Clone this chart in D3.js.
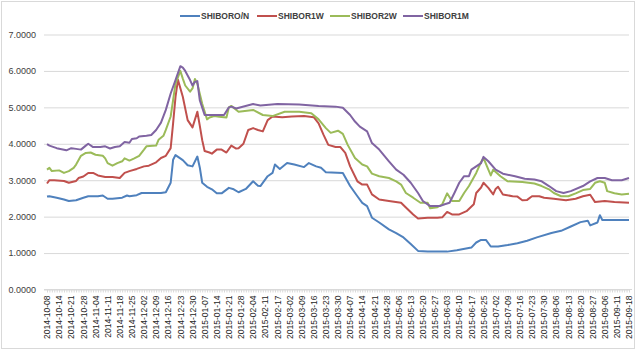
<!DOCTYPE html>
<html lang="zh-CN">

<head>
  <meta charset="UTF-8">
  <title>SHIBOR</title>
  <script src="https://cdn.jsdelivr.net/npm/d3@7/dist/d3.min.js"></script>
  <style>
    body { margin: 0; padding: 0; background: #fff; }
  </style>
</head>

<body>
  <div id="svg-root"></div>
  <script>
    // 每隔 5 个交易日一个刻度标签
    const tickLabels = [
      '2014-10-08', '2014-10-14', '2014-10-21', '2014-10-28', '2014-11-04', '2014-11-11', '2014-11-18',
      '2014-11-25', '2014-12-02', '2014-12-09', '2014-12-16', '2014-12-23', '2014-12-30', '2015-01-07',
      '2015-01-14', '2015-01-21', '2015-01-28', '2015-02-04', '2015-02-11', '2015-02-17', '2015-03-02',
      '2015-03-09', '2015-03-16', '2015-03-23', '2015-03-30', '2015-04-07', '2015-04-14', '2015-04-21',
      '2015-04-28', '2015-05-06', '2015-05-13', '2015-05-20', '2015-05-27', '2015-06-03', '2015-06-10',
      '2015-06-17', '2015-06-25', '2015-07-02', '2015-07-09', '2015-07-16', '2015-07-23', '2015-07-30',
      '2015-08-06', '2015-08-13', '2015-08-20', '2015-08-27', '2015-09-06', '2015-09-11', '2015-09-18'
    ];
    const dayCount = 241; // 交易日个数（0..240）
    const yTicks = [0, 1, 2, 3, 4, 5, 6, 7];
    const seriesNames = ['SHIBORO/N', 'SHIBOR1W', 'SHIBOR2W', 'SHIBOR1M'];
    const colors = ['#4F81BD', '#C0504D', '#9BBB59', '#8064A2'];

    // [交易日序号, 利率]
    const shiborON = [[0, 2.55], [1, 2.56], [4, 2.52], [7, 2.47], [9, 2.43], [12, 2.45], [15, 2.52], [17, 2.56],
      [21, 2.56], [23, 2.58], [25, 2.49], [27, 2.49], [31, 2.52], [33, 2.58], [34, 2.56], [37, 2.59], [39, 2.65],
      [47, 2.65], [49, 2.67], [51, 2.93], [52, 3.56], [53, 3.69], [56, 3.55], [58, 3.41], [60, 3.38], [62, 3.65],
      [63, 3.35], [64, 2.93], [66, 2.82], [68, 2.75], [70, 2.64], [72, 2.64], [75, 2.79], [77, 2.75], [79, 2.67],
      [82, 2.76], [85, 2.97], [87, 2.85], [88, 2.84], [91, 3.11], [93, 3.2], [94, 3.43], [96, 3.31], [99, 3.47],
      [102, 3.43], [106, 3.36], [108, 3.47], [111, 3.38], [113, 3.34], [115, 3.22], [122, 3.2], [125, 2.84],
      [128, 2.56], [130, 2.38], [132, 2.29], [134, 1.97], [137, 1.84], [141, 1.65], [144, 1.55], [147, 1.43],
      [150, 1.25], [153, 1.06], [157, 1.04], [165, 1.04], [169, 1.08], [175, 1.15], [177, 1.29], [179, 1.36],
      [181, 1.36], [183, 1.18], [186, 1.18], [190, 1.22], [194, 1.27], [198, 1.34], [202, 1.43], [208, 1.55],
      [212, 1.61], [216, 1.73], [220, 1.85], [223, 1.89], [224, 1.76], [227, 1.84], [228, 2.04], [229, 1.91],
      [234, 1.91], [240, 1.91]];

    const shibor1W = [[0, 2.91], [1, 3.0], [3, 3.0], [7, 2.98], [9, 2.93], [12, 2.98], [13, 3.06], [15, 3.1],
      [17, 3.2], [19, 3.2], [21, 3.13], [24, 3.09], [27, 3.09], [30, 3.06], [32, 3.2], [34, 3.25], [37, 3.31],
      [40, 3.38], [42, 3.4], [45, 3.49], [47, 3.61], [49, 3.67], [51, 3.88], [52, 4.56], [53, 5.29], [54, 5.76],
      [56, 5.29], [58, 4.65], [60, 4.45], [62, 4.88], [63, 4.5], [64, 4.1], [65, 3.8], [67, 3.76], [68, 3.73],
      [70, 3.84], [72, 3.84], [74, 3.76], [76, 3.95], [78, 3.87], [79, 3.88], [81, 4.0], [83, 4.38], [85, 4.43],
      [87, 4.38], [89, 4.34], [91, 4.65], [93, 4.75], [97, 4.73], [101, 4.75], [106, 4.76], [110, 4.73],
      [112, 4.56], [114, 4.25], [116, 3.97], [119, 3.91], [121, 3.91], [123, 3.75], [125, 3.38], [128, 2.97],
      [130, 2.88], [132, 2.88], [134, 2.61], [137, 2.47], [141, 2.43], [146, 2.38], [148, 2.25], [151, 2.06],
      [153, 1.95], [157, 1.97], [161, 1.97], [163, 1.98], [165, 2.13], [167, 2.06], [170, 2.06], [173, 2.15],
      [176, 2.34], [177, 2.65], [179, 2.8], [180, 2.93], [182, 2.79], [184, 2.61], [185, 2.76], [186, 2.82],
      [188, 2.61], [192, 2.56], [194, 2.55], [196, 2.45], [198, 2.46], [200, 2.56], [203, 2.56], [205, 2.52],
      [209, 2.49], [214, 2.45], [218, 2.49], [221, 2.56], [224, 2.6], [226, 2.4], [230, 2.43], [234, 2.4],
      [240, 2.38]];

    const shibor2W = [[0, 3.29], [1, 3.34], [2, 3.25], [5, 3.27], [7, 3.2], [9, 3.25], [11, 3.34], [12, 3.43],
      [14, 3.67], [16, 3.75], [18, 3.76], [20, 3.7], [23, 3.67], [24, 3.6], [25, 3.47], [27, 3.4], [29, 3.47],
      [31, 3.52], [32, 3.6], [34, 3.54], [36, 3.6], [38, 3.67], [40, 3.84], [41, 3.93], [45, 3.95], [46, 4.11],
      [48, 4.22], [49, 4.38], [51, 4.75], [52, 5.2], [53, 5.65], [55, 6.0], [56, 5.79], [57, 5.6], [59, 5.43],
      [60, 5.52], [61, 5.78], [62, 5.65], [64, 5.1], [66, 4.67], [67, 4.72], [69, 4.76], [71, 4.74], [74, 4.72],
      [75, 5.0], [76, 5.04], [79, 4.88], [85, 4.93], [89, 4.79], [93, 4.76], [98, 4.88], [104, 4.88], [109, 4.84],
      [112, 4.67], [115, 4.43], [117, 4.3], [120, 4.36], [122, 4.27], [124, 3.97], [127, 3.61], [130, 3.43],
      [132, 3.38], [134, 3.18], [137, 3.11], [141, 3.06], [144, 2.97], [146, 2.88], [148, 2.65], [151, 2.52],
      [154, 2.38], [157, 2.38], [158, 2.23], [161, 2.26], [163, 2.34], [165, 2.64], [167, 2.43], [170, 2.43],
      [172, 2.65], [174, 2.84], [177, 3.2], [179, 3.5], [180, 3.61], [182, 3.29], [183, 3.13], [184, 3.29],
      [187, 3.11], [190, 2.97], [196, 2.95], [201, 2.91], [204, 2.84], [207, 2.75], [209, 2.65], [212, 2.56],
      [215, 2.56], [218, 2.64], [221, 2.73], [224, 2.76], [226, 2.93], [228, 2.97], [230, 2.93], [231, 2.7],
      [234, 2.64], [237, 2.61], [240, 2.63]];

    const shibor1M = [[0, 3.99], [1, 3.95], [4, 3.88], [8, 3.82], [10, 3.88], [12, 3.86], [14, 3.84], [16, 3.95],
      [17, 4.0], [19, 3.91], [22, 3.91], [24, 3.93], [26, 3.87], [28, 3.91], [30, 3.93], [32, 4.05], [34, 4.03],
      [35, 4.13], [37, 4.15], [38, 4.2], [41, 4.22], [43, 4.24], [45, 4.38], [47, 4.58], [49, 4.93], [51, 5.38],
      [53, 5.75], [55, 6.13], [56, 6.09], [57, 6.0], [59, 5.75], [60, 5.6], [61, 5.7], [62, 5.72], [63, 5.2],
      [65, 4.79], [73, 4.79], [75, 5.0], [76, 5.02], [78, 4.97], [85, 5.09], [88, 5.05], [95, 5.09], [104, 5.08],
      [112, 5.04], [119, 5.02], [122, 4.99], [125, 4.79], [127, 4.61], [129, 4.47], [132, 4.34], [134, 4.02],
      [137, 3.84], [141, 3.52], [144, 3.29], [147, 3.15], [150, 2.93], [153, 2.65], [155, 2.43], [158, 2.29],
      [162, 2.29], [164, 2.34], [166, 2.38], [168, 2.65], [170, 2.93], [172, 3.11], [174, 3.11], [175, 3.29],
      [177, 3.38], [179, 3.47], [180, 3.64], [182, 3.52], [185, 3.29], [188, 3.18], [193, 3.11], [197, 3.04],
      [201, 3.02], [204, 2.97], [207, 2.84], [210, 2.7], [213, 2.65], [216, 2.7], [221, 2.84], [224, 2.97],
      [227, 3.06], [230, 3.06], [233, 3.0], [237, 3.0], [240, 3.06]];

    const allSeries = [shiborON, shibor1W, shibor2W, shibor1M];

    const width = 640, height = 352;
    const plot = { left: 47, right: 629, top: 34.5, bottom: 289.5 };

    const svg = d3.create('svg')
      .attr('width', width)
      .attr('height', height)
      .style('font-family', '"Liberation Sans", Arial, sans-serif')
      .style('display', 'block');

    // 图表外框
    svg.append('rect')
      .attr('x', 1.5).attr('y', 1.5)
      .attr('width', 633).attr('height', 347)
      .attr('fill', '#fff')
      .attr('stroke', '#D9D9D9');

    const xScale = d3.scaleLinear()
      .domain([0, dayCount - 1])
      .range([plot.left, plot.right]);

    const yScale = d3.scaleLinear()
      .domain([0, 7])
      .range([plot.bottom, plot.top]);

    // 网格线 + y 轴
    const yAxis = d3.axisLeft(yScale)
      .tickValues(yTicks)
      .tickSize(-(plot.right - plot.left + 3))
      .tickPadding(8)
      .tickFormat(d3.format('.4f'));

    svg.append('g')
      .attr('transform', 'translate(' + (plot.left - 3) + ',0)')
      .call(yAxis)
      .call(g => g.select('.domain').remove())
      .call(g => g.selectAll('line').attr('stroke', '#D9D9D9'))
      .call(g => g.selectAll('text')
        .attr('font-size', '9px')
        .attr('fill', '#404040'));

    // x 轴: 每个交易日一个小刻度, 每 5 个一个标签
    const xAxis = d3.axisBottom(xScale)
      .tickValues(d3.range(0, dayCount))
      .tickSize(3)
      .tickFormat(i => i % 5 === 0 ? tickLabels[i / 5] : '');

    svg.append('g')
      .attr('transform', 'translate(0,' + plot.bottom + ')')
      .call(xAxis)
      .call(g => g.select('.domain').attr('stroke', '#D9D9D9').attr('d', 'M' + (plot.left - 3) + ',0H' + (plot.right + 3)))
      .call(g => g.selectAll('line').attr('stroke', '#D9D9D9'))
      .call(g => g.selectAll('text')
        .attr('font-size', '8.5px')
        .attr('fill', '#262626')
        .attr('text-anchor', 'end')
        .attr('transform', 'rotate(-90)')
        .attr('x', -6)
        .attr('y', 0)
        .attr('dy', '0.32em'));

    // 折线
    const line = d3.line()
      .x(d => xScale(d[0]))
      .y(d => yScale(d[1]));

    svg.append('g')
      .selectAll('path')
      .data(allSeries)
      .enter()
      .append('path')
      .attr('d', d => line(d))
      .attr('fill', 'none')
      .attr('stroke', (d, i) => colors[i])
      .attr('stroke-width', 2)
      .attr('stroke-linejoin', 'round');

    // 图例
    const legendX = [180, 257, 330, 403];
    const legend = svg.append('g')
      .selectAll('g')
      .data(seriesNames)
      .enter()
      .append('g')
      .attr('transform', (d, i) => 'translate(' + legendX[i] + ',16)');

    legend.append('line')
      .attr('x1', 0).attr('x2', 20)
      .attr('stroke', (d, i) => colors[i])
      .attr('stroke-width', 2);

    legend.append('text')
      .attr('x', 21)
      .attr('dy', '0.35em')
      .attr('font-size', '8.5px')
      .attr('font-weight', 'bold')
      .attr('fill', '#404040')
      .text(d => d);

    document.getElementById('svg-root').append(svg.node());
  </script>
</body>

</html>
